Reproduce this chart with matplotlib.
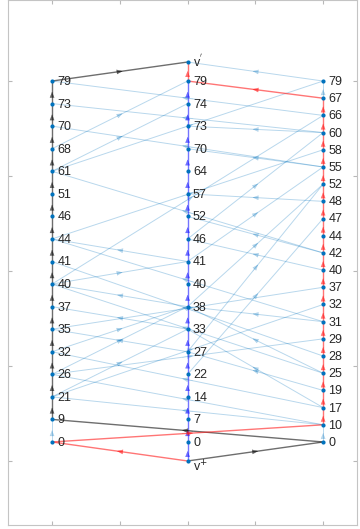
import numpy as np
import matplotlib.pyplot as plt

# Time stamps held by each of the three vertices (bottom to top)
left_times = [0, 9, 21, 26, 32, 35, 37, 40, 41, 44, 46, 51, 61, 68, 70, 73, 79]
mid_times = [0, 7, 14, 22, 27, 33, 38, 40, 41, 46, 52, 57, 64, 70, 73, 74, 79]
right_times = [0, 10, 17, 19, 25, 28, 29, 31, 32, 37, 40, 42, 44, 47, 48, 52, 55, 58, 60, 66, 67, 79]

# Contacts between vertices: (from vertex, time, to vertex, time)
contact_edges = [
    # left <-> right
    ('R', 66, 'L', 79), ('R', 60, 'L', 73), ('R', 55, 'L', 70),
    ('L', 61, 'R', 79), ('R', 42, 'L', 61), ('L', 44, 'R', 58),
    ('R', 31, 'L', 44), ('R', 28, 'L', 41), ('L', 40, 'R', 66),
    ('R', 25, 'L', 40), ('L', 35, 'R', 37), ('R', 17, 'L', 32),
    ('L', 26, 'R', 29), ('R', 10, 'L', 26), ('L', 21, 'R', 32),
    ('R', 10, 'L', 21),
    # left <-> middle
    ('L', 68, 'M', 79), ('L', 61, 'M', 74), ('M', 41, 'L', 44),
    ('L', 40, 'M', 41), ('M', 38, 'L', 40), ('M', 33, 'L', 37),
    ('M', 27, 'L', 35), ('L', 32, 'M', 38), ('L', 26, 'M', 38),
    ('L', 21, 'M', 33),
    # middle <-> right
    ('R', 60, 'M', 73), ('R', 55, 'M', 70), ('M', 46, 'R', 60),
    ('R', 48, 'M', 57), ('M', 41, 'R', 55), ('R', 42, 'M', 52),
    ('M', 38, 'R', 52), ('R', 40, 'M', 46), ('M', 27, 'R', 52),
    ('M', 22, 'R', 47), ('R', 31, 'M', 38), ('R', 25, 'M', 38),
    ('R', 19, 'M', 27), ('R', 17, 'M', 33),
]

SRC, SNK = 'v+', "v'"
col_x = {'L': 1.0, 'M': 2.0, 'R': 3.0}
col_times = {'L': left_times, 'M': mid_times, 'R': right_times}

pos = {}
for c, times in col_times.items():
    ys = np.linspace(0.2, 4.0, len(times))
    for t, y in zip(times, ys):
        pos[(c, t)] = (col_x[c], y)
pos[SNK] = (2.0, 4.2)
pos[SRC] = (2.0, 0.0)


def chain(c, times):
    return [(c, t) for t in times]


red_path = [SRC, ('L', 0)] + chain('R', right_times[1:-1]) + [('M', 79), SNK]
black_path = [SRC, ('R', 0)] + chain('L', left_times[1:]) + [SNK]
blue_path = [SRC] + chain('M', mid_times)

plain_edges = [(('L', 0), ('L', 9)), (('R', 0), ('R', 10)),
               (('R', 67), ('R', 79)), (('R', 79), SNK)]
plain_edges += [((a, ta), (b, tb)) for a, ta, b, tb in contact_edges]

fig = plt.figure(figsize=(3.6, 5.29), dpi=100)
ax = fig.add_axes([8 / 360, 4 / 529, 349 / 360, 525 / 529])
ax.set_xlim(0.675, 3.25)
ax.set_ylim(-0.674, 4.853)


def draw_edge(a, b, color, lw, alpha, z, ms=7):
    (x0, y0), (x1, y1) = pos[a], pos[b]
    ax.plot([x0, x1], [y0, y1], color=color, lw=lw, alpha=alpha, zorder=z,
            solid_capstyle='butt')
    ax.annotate('', xy=(x0 + 0.52 * (x1 - x0), y0 + 0.52 * (y1 - y0)),
                xytext=(x0 + 0.48 * (x1 - x0), y0 + 0.48 * (y1 - y0)),
                arrowprops=dict(arrowstyle='-|>,head_length=0.55,head_width=0.22',
                                mutation_scale=ms, color=color, alpha=alpha,
                                lw=0.2, shrinkA=0, shrinkB=0),
                zorder=z)


light = (0.0, 0.447, 0.741)
for a, b in plain_edges:
    draw_edge(a, b, light, 0.7, 0.28, 2)

for path, color in ((blue_path, (0.1, 0.1, 1.0)),
                    (black_path, (0.05, 0.05, 0.05)),
                    (red_path, (1.0, 0.1, 0.1))):
    for a, b in zip(path[:-1], path[1:]):
        draw_edge(a, b, color, 1.0, 0.6, 3)

xs = [p[0] for p in pos.values()]
ys = [p[1] for p in pos.values()]
ax.plot(xs, ys, 'o', ms=3.0, color=light, zorder=5, mec='none')

for key, (x, y) in pos.items():
    if key == SNK:
        txt, dy = "v$^{'}$", 0.0
    elif key == SRC:
        txt, dy = "v$^{+}$", -0.06
    else:
        txt, dy = str(key[1]), -0.01
    ax.text(x + 0.04, y + dy, txt, fontsize=9, color='#262626',
            family='Liberation Sans', va='center', ha='left', zorder=6)

ax.set_xticks([1, 1.5, 2, 2.5, 3])
ax.set_yticks([0, 1, 2, 3, 4])
ax.tick_params(direction='in', length=3, color='#b8b8b8', top=True, right=True,
               labelbottom=False, labelleft=False)
for s in ax.spines.values():
    s.set_color('#c4c4c4')
    s.set_linewidth(0.8)

fig.savefig('out.png', dpi=100)
